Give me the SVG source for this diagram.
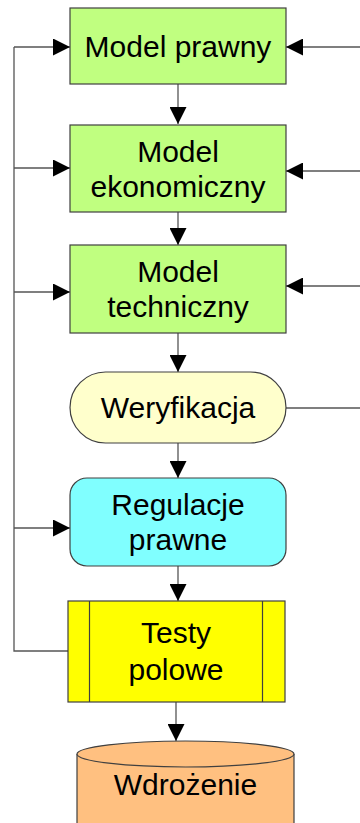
<svg xmlns="http://www.w3.org/2000/svg" width="360" height="823" viewBox="0 0 360 823">
  <style>
    .box { stroke: #404040; stroke-width: 1.2; }
    .lbl { font-family: "Liberation Sans", Arial, sans-serif; font-size: 30px; fill: #000; text-anchor: middle; }
    .wire { fill: none; stroke: #555; stroke-width: 1.3; }
  </style>
  <defs>
    <marker id="arrow" viewBox="0 0 17 17" refX="17" refY="8.5" markerWidth="17" markerHeight="17" markerUnits="userSpaceOnUse" orient="auto">
      <path d="M0,0 L17,8.5 L0,17 Z" fill="#000"/>
    </marker>
  </defs>

  <rect width="360" height="823" fill="#fff"/>

  <g id="connectors">
    <!-- main flow down the middle -->
    <line class="wire" x1="178" y1="84" x2="178" y2="124" marker-end="url(#arrow)"/>
    <line class="wire" x1="178" y1="212" x2="178" y2="245" marker-end="url(#arrow)"/>
    <line class="wire" x1="178" y1="333" x2="178" y2="372" marker-end="url(#arrow)"/>
    <line class="wire" x1="178" y1="443" x2="178" y2="478" marker-end="url(#arrow)"/>
    <line class="wire" x1="178" y1="566" x2="178" y2="601" marker-end="url(#arrow)"/>
    <line class="wire" x1="176" y1="702" x2="176" y2="741" marker-end="url(#arrow)"/>
    <!-- feedback loop on the left -->
    <polyline class="wire" points="68,651 14,651 14,47"/>
    <line class="wire" x1="14" y1="47" x2="70" y2="47" marker-end="url(#arrow)"/>
    <line class="wire" x1="14" y1="168" x2="70" y2="168" marker-end="url(#arrow)"/>
    <line class="wire" x1="14" y1="292" x2="70" y2="292" marker-end="url(#arrow)"/>
    <line class="wire" x1="14" y1="528" x2="70" y2="528" marker-end="url(#arrow)"/>
    <!-- inputs from the right -->
    <line class="wire" x1="360" y1="47" x2="286" y2="47" marker-end="url(#arrow)"/>
    <line class="wire" x1="360" y1="171" x2="286" y2="171" marker-end="url(#arrow)"/>
    <line class="wire" x1="360" y1="286" x2="286" y2="286" marker-end="url(#arrow)"/>
    <line class="wire" x1="286" y1="408" x2="360" y2="408"/>
  </g>

  <g id="model-prawny">
    <rect class="box" x="70" y="8" width="216" height="76" fill="#c0ff80"/>
    <text class="lbl" x="178" y="57">Model prawny</text>
  </g>

  <g id="model-ekonomiczny">
    <rect class="box" x="70" y="125" width="216" height="87" fill="#c0ff80"/>
    <text class="lbl" x="178" y="162">Model</text>
    <text class="lbl" x="178" y="197">ekonomiczny</text>
  </g>

  <g id="model-techniczny">
    <rect class="box" x="70" y="245" width="216" height="88" fill="#c0ff80"/>
    <text class="lbl" x="178" y="282">Model</text>
    <text class="lbl" x="178" y="317">techniczny</text>
  </g>

  <g id="weryfikacja">
    <rect class="box" x="70" y="372" width="216" height="71" rx="35.5" ry="35.5" fill="#ffffcc"/>
    <text class="lbl" x="178" y="418">Weryfikacja</text>
  </g>

  <g id="regulacje-prawne">
    <rect class="box" x="70" y="478" width="216" height="88" rx="17" ry="17" fill="#80ffff"/>
    <text class="lbl" x="178" y="515">Regulacje</text>
    <text class="lbl" x="178" y="550">prawne</text>
  </g>

  <g id="testy-polowe">
    <rect class="box" x="68" y="601" width="217" height="101" fill="#ffff00"/>
    <line class="box" x1="89.5" y1="601" x2="89.5" y2="702"/>
    <line class="box" x1="262.5" y1="601" x2="262.5" y2="702"/>
    <text class="lbl" x="176" y="643">Testy</text>
    <text class="lbl" x="176" y="680">polowe</text>
  </g>

  <g id="wdrozenie">
    <path class="box" d="M77,754 L77,830 L294,830 L294,754" fill="#ffc080"/>
    <ellipse class="box" cx="185.5" cy="754" rx="108.5" ry="13" fill="#ffc080"/>
    <text class="lbl" x="185.5" y="795">Wdrożenie</text>
  </g>
</svg>
